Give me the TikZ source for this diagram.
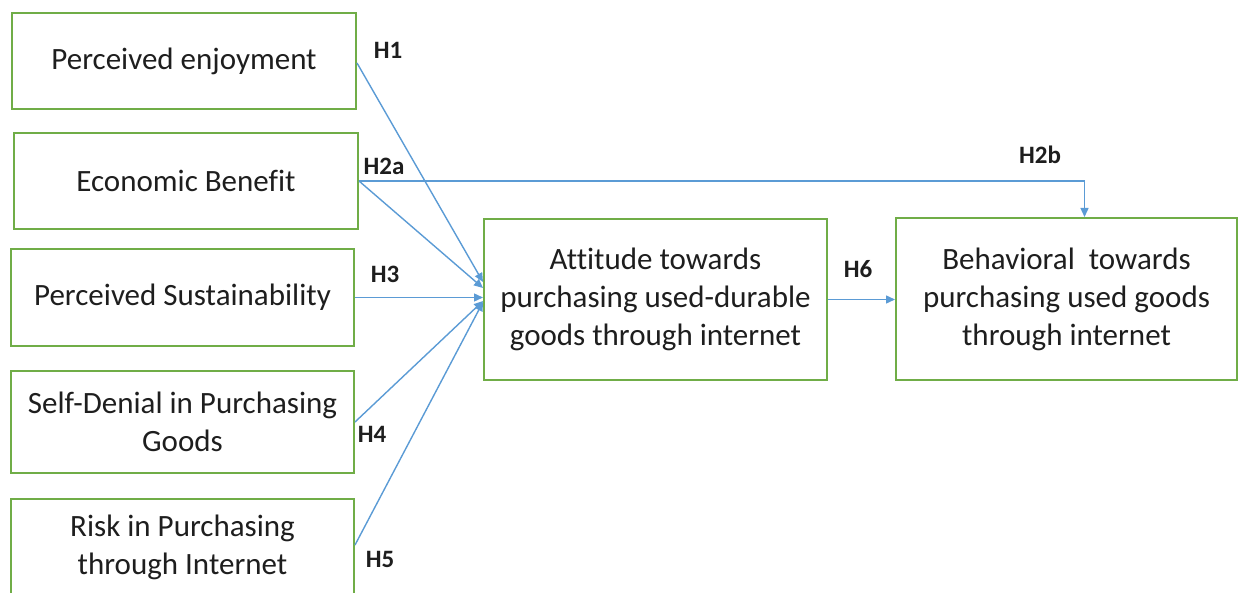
\documentclass[tikz,border=0pt]{standalone}
\usepackage{fontspec}
\setmainfont{Carlito}[Ligatures=NoCommon]
\usetikzlibrary{arrows.meta}
\definecolor{boxgreen}{RGB}{112,173,71}
\definecolor{linkblue}{RGB}{91,155,213}
\definecolor{txt}{RGB}{30,30,30}
\begin{document}
\begin{tikzpicture}[x=1pt,y=-1pt,
  construct/.style={draw=boxgreen, line width=2pt, rectangle, inner sep=0pt,
    align=center, text=txt, font=\fontsize{31}{38}\selectfont},
  link/.style={draw=linkblue, line width=1.4pt, -{Triangle[length=9pt,width=8pt]}},
  hyp/.style={font=\fontsize{25}{28}\selectfont\bfseries, text=txt, inner sep=0pt}]
\useasboundingbox (0,0) rectangle (1238,593);

% antecedent constructs
\node[construct, minimum width=344pt, minimum height=96pt] (enj) at (184,61) {\raisebox{-2pt}{Perceived enjoyment}};
\node[construct, minimum width=344pt, minimum height=96pt] (eco) at (186,181) {\raisebox{-1pt}{Economic Benefit}};
\node[construct, minimum width=343pt, minimum height=97pt] (sus) at (182.5,297.5) {\raisebox{-1pt}{Perceived Sustainability}};
\node[construct, minimum width=343pt, minimum height=102pt] (den) at (182.5,422) {Self-Denial in Purchasing\\Goods};
\node[construct, minimum width=343pt, minimum height=96pt] (risk) at (182.5,547) {Risk in Purchasing\\through Internet};

% attitude and behaviour
\node[construct, minimum width=343pt, minimum height=161pt] (att) at (655.5,299.5) {Attitude towards\\purchasing used-durable\\goods through internet};
\node[construct, minimum width=341pt, minimum height=162pt] (beh) at (1066.5,299) {Behavioral\ \ towards\\purchasing used goods\\through internet};

% hypothesised paths
\draw[link] ([yshift=-2pt]enj.east) -- ([yshift=17.5pt]att.west);
\draw[link] (eco.east) -- ([yshift=11.5pt]att.west);
\draw[link] (sus.east) -- (sus.east -| att.west);
\draw[link] (den.east) -- ([yshift=-1.5pt]att.west);
\draw[link] ([yshift=2pt]risk.east) -- ([yshift=-2.5pt]att.west);
\draw[link] (eco.east) -| ([xshift=18pt]beh.north);
\draw[link] (att.east) -- (att.east -| beh.west);

% hypothesis labels
\node[hyp] (h1) at (388,50) {H1};
\node[hyp] (h2a) at (384,166) {H2a};
\node[hyp] (h2b) at (1040,154.5) {H2b};
\node[hyp] (h3) at (385,274) {H3};
\node[hyp] (h4) at (372,434) {H4};
\node[hyp] (h5) at (380,559) {H5};
\node[hyp] (h6) at (858,269) {H6};
\end{tikzpicture}
\end{document}
